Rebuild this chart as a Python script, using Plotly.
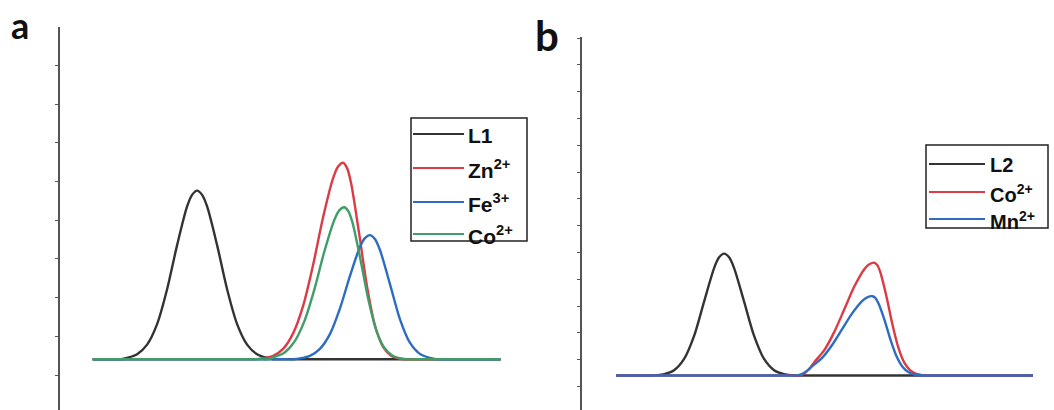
import plotly.graph_objects as go

W, H = 1054, 410

# ---------------- data ----------------
# panel a
a_names = ["L1", "Zn<sup>2+</sup>", "Fe<sup>3+</sup>", "Co<sup>2+</sup>"]
a_colors = ["#333333", "#dc3a45", "#2d6cc0", "#3f9e68"]

a_L1_x = [8.3, 13.4, 15.4, 16.9, 19.4, 21.9, 24.4, 26.9, 29.4, 31.9, 33.15, 34.4, 35.65, 36.9, 39.4, 41.9, 44.4, 46.9, 49.4, 51.9, 53.4, 55.4, 110.25]
a_L1_y = [0, 0, 0, 0.035, 0.13, 0.38, 0.91, 1.81, 2.95, 3.95, 4.25, 4.36, 4.25, 3.95, 2.95, 1.81, 0.91, 0.38, 0.13, 0.035, 0, 0, 0]

a_Zn_x = [8.3, 47.0, 49.0, 50.9, 53.4, 55.9, 58.4, 60.9, 63.4, 65.9, 68.4, 69.65, 70.9, 71.9, 72.9, 74.9, 76.9, 78.9, 80.9, 82.9, 84.9, 86.5, 88.5, 110.25]
a_Zn_y = [0, 0, 0, 0.03, 0.09, 0.27, 0.67, 1.38, 2.44, 3.67, 4.68, 4.98, 5.08, 4.94, 4.55, 3.26, 1.87, 0.86, 0.32, 0.09, 0.02, 0, 0, 0]

a_Fe_x = [8.3, 56.6, 58.6, 60.1, 62.6, 65.1, 67.6, 70.1, 72.6, 75.1, 76.35, 77.6, 78.85, 80.1, 82.6, 85.1, 87.6, 90.1, 92.6, 94.2, 96.2, 110.25]
a_Fe_y = [0, 0, 0, 0.024, 0.09, 0.27, 0.65, 1.31, 2.15, 2.90, 3.13, 3.21, 3.11, 2.83, 1.95, 1.04, 0.43, 0.14, 0.036, 0, 0, 0]

a_Co_x = [8.3, 50.2, 52.2, 53.7, 56.2, 58.7, 61.2, 63.7, 66.2, 68.7, 69.95, 71.2, 72.2, 73.2, 75.2, 77.2, 79.2, 81.2, 83.2, 85.2, 86.8, 88.8, 110.25]
a_Co_y = [0, 0, 0, 0.06, 0.17, 0.45, 0.98, 1.80, 2.78, 3.60, 3.85, 3.93, 3.83, 3.55, 2.60, 1.55, 0.75, 0.30, 0.10, 0.025, 0, 0, 0]

# panel b
b_names = ["L2", "Co<sup>2+</sup>", "Mn<sup>2+</sup>"]
b_colors = ["#333333", "#dc3a45", "#2d6cc0"]

b_L2_x = [8.6, 15.1, 17.1, 18.6, 20.6, 23.1, 25.6, 28.1, 30.6, 33.1, 34.35, 35.6, 36.85, 38.1, 40.6, 43.1, 45.6, 48.1, 50.6, 52.6, 54.1, 56.1, 112.8]
b_L2_y = [0, 0, 0, 0.014, 0.05, 0.20, 0.62, 1.48, 2.76, 4.01, 4.41, 4.55, 4.41, 4.01, 2.76, 1.48, 0.62, 0.20, 0.05, 0.014, 0, 0, 0]

b_Co_x = [8.6, 52.15, 54.15, 55.65, 57.15, 58.15, 60.65, 63.15, 65.65, 68.15, 70.65, 71.9, 73.15, 73.9, 74.65, 76.15, 77.65, 79.15, 80.65, 82.15, 83.65, 85.15, 86.6, 88.6, 112.8]
b_Co_y = [0, 0, 0, 0.08, 0.30, 0.50, 0.95, 1.63, 2.47, 3.32, 3.97, 4.15, 4.21, 4.12, 3.86, 2.98, 1.93, 1.05, 0.48, 0.19, 0.06, 0.016, 0, 0, 0]

b_Mn_x = [8.6, 51.65, 53.65, 55.15, 56.65, 57.65, 60.15, 62.65, 65.15, 67.65, 70.15, 71.4, 72.65, 73.4, 74.15, 75.65, 77.15, 78.65, 80.15, 81.65, 83.15, 84.65, 86.1, 88.1, 112.8]
b_Mn_y = [0, 0, 0, 0.06, 0.21, 0.35, 0.67, 1.15, 1.74, 2.33, 2.79, 2.92, 2.96, 2.90, 2.71, 2.10, 1.36, 0.74, 0.34, 0.13, 0.04, 0.01, 0, 0, 0]

panel_labels = ["a", "b"]

# ---------------- figure ----------------
def px_x(p):
    return p / W

def px_y(p):
    return 1 - p / H

fig = go.Figure()

a_series = [(a_L1_x, a_L1_y), (a_Zn_x, a_Zn_y), (a_Fe_x, a_Fe_y), (a_Co_x, a_Co_y)]
for (xs, ys), name, col in zip(a_series, a_names, a_colors):
    fig.add_trace(go.Scatter(x=xs, y=ys, mode="lines", name=name, showlegend=False,
                             line=dict(color=col, width=2.4, shape="spline", smoothing=0.8),
                             xaxis="x", yaxis="y"))

b_series = [(b_L2_x, b_L2_y), (b_Co_x, b_Co_y), (b_Mn_x, b_Mn_y)]
for (xs, ys), name, col in zip(b_series, b_names, b_colors):
    fig.add_trace(go.Scatter(x=xs, y=ys, mode="lines", name=name, showlegend=False,
                             line=dict(color=col, width=2.4, shape="spline", smoothing=0.8),
                             xaxis="x2", yaxis="y2"))

axcol = "#555555"
fig.update_layout(
    width=W, height=H,
    margin=dict(l=0, r=0, t=0, b=0),
    paper_bgcolor="white", plot_bgcolor="white",
    showlegend=False,
    xaxis=dict(domain=[px_x(59.5), px_x(59.5 + 480)], range=[0, 120], visible=False),
    yaxis=dict(domain=[0, 1 - 27 / H], range=[-1.310, 8.587], showline=True, linecolor=axcol,
               linewidth=1.5, ticks="outside", ticklen=3, tickcolor=axcol, tickwidth=1,
               tick0=-0.406, dtick=1, showticklabels=False, showgrid=False, zeroline=False,
               anchor="x"),
    xaxis2=dict(domain=[px_x(581.7), px_x(581.7 + 460)], range=[0, 115], visible=False),
    yaxis2=dict(domain=[0, 1 - 37 / H], range=[-1.285, 12.63], showline=True, linecolor=axcol,
                linewidth=1.5, ticks="outside", ticklen=3, tickcolor=axcol, tickwidth=1,
                tick0=-0.412, dtick=1, showticklabels=False, showgrid=False, zeroline=False,
                anchor="x2"),
)

shapes = []
annotations = []

def add_legend(box, line_x0, line_x1, text_x, rows, names, colors, fsize):
    x0, y0, x1, y1 = box
    shapes.append(dict(type="rect", xref="paper", yref="paper",
                       x0=px_x(x0), x1=px_x(x1), y0=px_y(y1), y1=px_y(y0),
                       line=dict(color="#222222", width=1.5), fillcolor="white", layer="above"))
    for ry, nm, col in zip(rows, names, colors):
        shapes.append(dict(type="line", xref="paper", yref="paper",
                           x0=px_x(line_x0), x1=px_x(line_x1), y0=px_y(ry), y1=px_y(ry),
                           line=dict(color=col, width=2), layer="above"))
        annotations.append(dict(xref="paper", yref="paper", x=px_x(text_x), y=px_y(ry + 1),
                                xanchor="left", yanchor="middle", showarrow=False,
                                text=nm,
                                font=dict(family="Liberation Sans, Arial", size=fsize,
                                          color="#111111", weight="bold")))

add_legend((411, 118, 527, 241), 413, 464, 466, [134, 168, 202, 234], a_names, a_colors, 21)
add_legend((926, 145, 1048, 228), 929, 985, 988, [164, 192, 219], b_names, b_colors, 20)

annotations.append(dict(xref="paper", yref="paper", x=px_x(19.5), y=px_y(25), xanchor="center",
                        yanchor="middle", showarrow=False, text=panel_labels[0],
                        font=dict(family="Lato", size=36, color="#111111", weight="bold")))
annotations.append(dict(xref="paper", yref="paper", x=px_x(547), y=px_y(35), xanchor="center",
                        yanchor="middle", showarrow=False, text=panel_labels[1],
                        font=dict(family="Lato", size=42, color="#111111", weight="bold")))

fig.update_layout(shapes=shapes, annotations=annotations)
fig.write_html("out.html", config={"displayModeBar": False},
               post_script="document.body.style.margin='0';")
